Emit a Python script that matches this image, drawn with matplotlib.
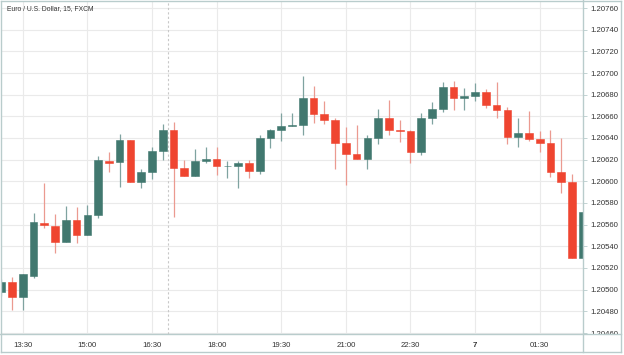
import matplotlib
matplotlib.use("Agg")
import matplotlib.pyplot as plt
from matplotlib.patches import Rectangle
from matplotlib.lines import Line2D
import pandas as pd

title = "Euro / U.S. Dollar, 15, FXCM"

times = [t.strftime("%H:%M") for t in pd.date_range("2021-01-06 13:00", periods=55, freq="15min")]

opens = [1.20498, 1.20507, 1.20493, 1.20513, 1.20562, 1.20559, 1.20544, 1.20564, 1.20550, 1.20569,
         1.20619, 1.20618, 1.20638, 1.20599, 1.20609, 1.20628, 1.20647, 1.20612, 1.20605, 1.20619,
         1.20621, 1.20614, 1.20614, 1.20617, 1.20610, 1.20640, 1.20647, 1.20651, 1.20652, 1.20677,
         1.20662, 1.20657, 1.20635, 1.20625, 1.20621, 1.20640, 1.20658, 1.20647, 1.20646, 1.20627,
         1.20658, 1.20667, 1.20687, 1.20677, 1.20679, 1.20682, 1.20670, 1.20666, 1.20641, 1.20645,
         1.20639, 1.20635, 1.20609, 1.20599, 1.20529]
highs = [1.20510, 1.20512, 1.20514, 1.20571, 1.20598, 1.20570, 1.20577, 1.20576, 1.20578, 1.20623,
         1.20627, 1.20644, 1.20638, 1.20611, 1.20632, 1.20653, 1.20655, 1.20620, 1.20630, 1.20632,
         1.20632, 1.20619, 1.20619, 1.20620, 1.20643, 1.20648, 1.20663, 1.20663, 1.20697, 1.20688,
         1.20674, 1.20658, 1.20650, 1.20652, 1.20643, 1.20667, 1.20675, 1.20657, 1.20647, 1.20663,
         1.20673, 1.20692, 1.20693, 1.20686, 1.20691, 1.20685, 1.20692, 1.20669, 1.20658, 1.20665,
         1.20646, 1.20647, 1.20640, 1.20607, 1.20572]
lows = [1.20494, 1.20481, 1.20481, 1.20511, 1.20557, 1.20534, 1.20544, 1.20543, 1.20550, 1.20566,
        1.20609, 1.20595, 1.20599, 1.20594, 1.20602, 1.20620, 1.20567, 1.20605, 1.20605, 1.20617,
        1.20606, 1.20603, 1.20594, 1.20603, 1.20607, 1.20631, 1.20637, 1.20651, 1.20643, 1.20654,
        1.20653, 1.20611, 1.20597, 1.20621, 1.20611, 1.20634, 1.20643, 1.20636, 1.20617, 1.20624,
        1.20653, 1.20664, 1.20666, 1.20666, 1.20674, 1.20668, 1.20658, 1.20634, 1.20632, 1.20637,
        1.20627, 1.20604, 1.20589, 1.20529, 1.20529]
closes = [1.20507, 1.20493, 1.20514, 1.20562, 1.20560, 1.20544, 1.20564, 1.20550, 1.20569, 1.20620,
          1.20617, 1.20638, 1.20599, 1.20609, 1.20628, 1.20647, 1.20612, 1.20605, 1.20619, 1.20621,
          1.20614, 1.206143, 1.20617, 1.20610, 1.20640, 1.20647, 1.20651, 1.20652, 1.20677, 1.20662,
          1.20657, 1.20635, 1.20625, 1.20621, 1.20640, 1.20658, 1.20647, 1.20646, 1.20627, 1.20658,
          1.20667, 1.20687, 1.20677, 1.20679, 1.20682, 1.20670, 1.20666, 1.20641, 1.20645, 1.20639,
          1.20635, 1.20609, 1.20599, 1.20529, 1.20572]

tick_times = ["13:30", "15:00", "16:30", "18:00", "19:30", "21:00", "22:30", "00:00", "01:30"]
tick_labels = ["13:30", "15:00", "16:30", "18:00", "19:30", "21:00", "22:30", "7", "01:30"]
session_break = "17:00"

price_ticks = [1.20460 + 0.0002 * k for k in range(16)]

UP = "#41786f"
DOWN = "#ef4530"
UP_WICK = "#7fa3a0"
DOWN_WICK = "#eb9a90"
GRID = "#eaeaea"
FRAME = "#b9cccc"
TEXT = "#333333"

W, H = 624, 355
fig = plt.figure(figsize=(W / 100, H / 100), dpi=100)
fig.patch.set_facecolor("white")

# axes in pixel coordinates
px_left, px_right, px_top, px_bottom = 1, 582.5, 1, 334
ax = fig.add_axes([px_left / W, 1 - px_bottom / H, (px_right - px_left) / W, (px_bottom - px_top) / H])

# price scale: 1.20760 at y=8, 1.20460 at y=333
ppp = 0.003 / 325
ax.set_ylim(1.2076 - (px_bottom - 8) * ppp, 1.2076 + (8 - px_top) * ppp)
spacing = 10.77
ax.set_xlim((px_left - 1.2) / spacing, (px_right - 1.2) / spacing)

bw = 0.71
for i, (o, h, l, c) in enumerate(zip(opens, highs, lows, closes)):
    up = c >= o
    col = UP if up else DOWN
    wcol = UP_WICK if up else DOWN_WICK
    ax.vlines(i, l, h, color=wcol, lw=0.9, zorder=2)
    bot = min(o, c)
    hgt = max(abs(c - o), 0.000004)
    ax.add_patch(Rectangle((i - bw / 2, bot), bw, hgt, facecolor=col, edgecolor=col, lw=0.4, zorder=3))

tick_pos = [times.index(t) for t in tick_times]
ax.set_xticks(tick_pos)
ax.set_xticklabels(tick_labels)
for lbl, txt in zip(ax.get_xticklabels(), tick_labels):
    if txt == "7":
        lbl.set_fontweight("bold")
ax.set_yticks(price_ticks)
ax.set_yticklabels([f"{p:.5f}" for p in price_ticks])
ax.yaxis.tick_right()
ax.grid(True, color=GRID, lw=0.8, zorder=0)
ax.set_axisbelow(True)

ax.tick_params(axis="x", length=0, pad=6, labelsize=5.6, labelcolor=TEXT)
ax.tick_params(axis="y", length=3, width=0.6, color=FRAME, pad=2.5, labelsize=5.6, labelcolor=TEXT)
for lbl in ax.get_xticklabels() + ax.get_yticklabels():
    lbl.set_family("Liberation Sans")

for s in ax.spines.values():
    s.set_visible(False)

ax.axvline(times.index(session_break) - 0.5, color="#c8c8c8", lw=0.8, ls=(0, (2, 2)), zorder=1)

ax.text(6 / (px_right - px_left), 1 - (9 - px_top) / (px_bottom - px_top), title,
        transform=ax.transAxes, ha="left", va="center", fontsize=4.9, color=TEXT,
        family="Liberation Sans")

# cover clipped part of bottom price label
fig.patches.append(Rectangle((583 / W, 0), 40 / W, 1 - 334.5 / H, transform=fig.transFigure,
                             facecolor="white", edgecolor="none", zorder=5))
# frame lines
def fline(x0, y0, x1, y1):
    fig.lines.append(Line2D([x0 / W, x1 / W], [1 - y0 / H, 1 - y1 / H], transform=fig.transFigure,
                            color=FRAME, lw=1.0, zorder=6))

fline(583, 0, 583, 352)
fline(0, 334, 621, 334)
fline(0.5, 0.5, 0.5, 352)
fline(0.5, 352, 621, 352)
fline(621, 0.5, 621, 352)
fline(0.5, 0.5, 621, 0.5)

fig.savefig("out.png", dpi=100)
